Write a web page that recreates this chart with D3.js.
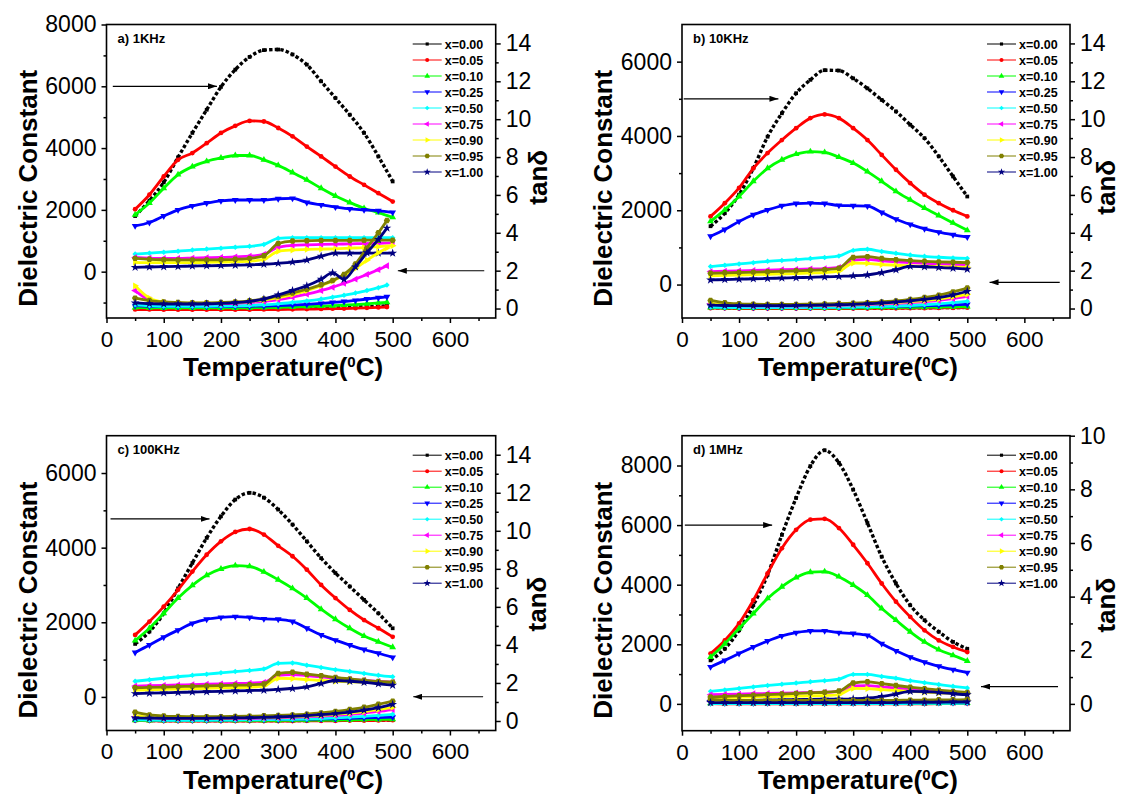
<!DOCTYPE html>
<html>
<head>
<meta charset="utf-8">
<script src="https://cdn.jsdelivr.net/npm/d3@7"></script>
<style>
  body { margin: 0; background: #fff; }
  svg text { font-family: "Liberation Sans", Arial, sans-serif; }
</style>
</head>
<body>
<svg id="chart" width="1121" height="795"></svg>
<script>
// temperatures (deg C) of the read-off points
const temps = [50,75,100,125,150,175,200,225,250,275,300,325,350,375,400,425,450,475,500];
const tempsTan1k = [50,75,100,125,150,175,200,225,250,275,300,325,350,375,395,415,435,455,475,490];
const compositions = ["x=0.00","x=0.05","x=0.10","x=0.25","x=0.50","x=0.75","x=0.90","x=0.95","x=1.00"];
const xTicks = [0,100,200,300,400,500,600];
const xMinor = [50,150,250,350,450,550,650];

// a) 1KHz
const eps1k = [
  [1800,2300,2890,3700,4490,5240,5980,6540,6950,7170,7190,7030,6700,6160,5620,5080,4490,3730,2920],
  [2020,2490,3080,3620,3840,4160,4490,4720,4880,4860,4650,4380,4050,3730,3400,3080,2810,2540,2270],
  [1840,2220,2700,3140,3400,3570,3680,3760,3760,3620,3440,3210,2970,2700,2450,2240,2050,1910,1760],
  [1480,1590,1800,2000,2130,2220,2290,2320,2320,2320,2360,2370,2240,2160,2090,2030,2000,1970,1920],
  [570,600,630,660,700,730,760,790,820,880,1080,1100,1100,1100,1100,1100,1100,1100,1100],
  [460,440,430,430,440,450,460,480,500,560,790,850,870,880,890,900,910,920,930],
  [300,290,290,290,295,300,310,320,340,400,660,700,720,730,740,760,780,810,840],
  [430,400,385,380,380,380,385,400,430,515,910,990,1000,1010,1010,1010,1020,1020,1020],
  [140,150,160,170,180,190,200,210,220,240,270,310,375,500,600,600,600,600,600]
];
const tan1k = [
  [0.05,0.03,0.02,0.02,0.02,0.02,0.02,0.02,0.02,0.02,0.03,0.03,0.04,0.05,0.06,0.07,0.08,0.1,0.12,0.15],
  [-0.05,-0.05,-0.06,-0.06,-0.06,-0.06,-0.06,-0.06,-0.06,-0.05,-0.05,-0.04,-0.03,-0.02,-0.01,0,0.02,0.04,0.06,0.08],
  [0.05,0.04,0.03,0.03,0.03,0.03,0.03,0.03,0.04,0.05,0.06,0.08,0.1,0.13,0.15,0.18,0.21,0.25,0.3,0.33],
  [0.15,0.12,0.1,0.1,0.1,0.1,0.1,0.11,0.12,0.13,0.15,0.18,0.22,0.27,0.32,0.37,0.43,0.5,0.57,0.62],
  [0.2,0.15,0.12,0.12,0.12,0.12,0.13,0.14,0.16,0.2,0.25,0.32,0.4,0.5,0.6,0.7,0.82,0.95,1.1,1.24],
  [0.95,0.45,0.3,0.26,0.25,0.25,0.26,0.28,0.32,0.38,0.47,0.6,0.76,0.95,1.12,1.33,1.55,1.8,2.05,2.26],
  [1.2,0.55,0.35,0.3,0.28,0.28,0.29,0.32,0.37,0.45,0.57,0.74,0.95,1.2,1.45,1.75,2.12,2.55,2.95,3.2],
  [0.55,0.42,0.35,0.32,0.3,0.3,0.32,0.35,0.41,0.5,0.65,0.82,1.02,1.25,1.48,1.8,2.35,3.2,4.0,4.65],
  [0.3,0.26,0.24,0.24,0.24,0.25,0.27,0.31,0.38,0.5,0.72,0.95,1.2,1.55,1.88,1.55,2.2,2.95,3.65,4.25]
];

// b) 10KHz
const eps10k = [
  [1570,1920,2420,3130,3980,4610,5150,5510,5770,5760,5550,5280,4970,4660,4300,3940,3450,2910,2370],
  [1835,2190,2600,3130,3540,3890,4210,4480,4580,4480,4210,3890,3490,3090,2730,2420,2190,2000,1835],
  [1700,2010,2370,2780,3130,3360,3510,3580,3560,3430,3270,3040,2780,2510,2280,2060,1860,1660,1460],
  [1300,1480,1700,1880,2010,2120,2180,2190,2180,2130,2120,2110,1940,1760,1620,1500,1410,1340,1280],
  [485,520,555,590,625,650,670,700,730,770,920,950,890,840,795,760,735,715,705],
  [350,360,370,380,390,400,410,420,430,460,660,680,640,610,590,570,555,540,530],
  [235,245,255,265,275,285,295,310,325,360,580,570,540,520,505,495,485,475,465],
  [305,315,325,335,345,355,370,385,400,440,730,750,700,670,645,625,610,600,592],
  [125,135,145,155,165,175,185,195,205,220,235,260,320,400,490,480,460,440,415]
];
const tan10k = [
  [0.05,0.03,0.02,0.02,0.02,0.02,0.02,0.02,0.02,0.02,0.02,0.03,0.03,0.03,0.04,0.04,0.05,0.05,0.06],
  [0.02,0.01,0,0,0,0,0,0,0,0,0,0,0.01,0.01,0.02,0.02,0.03,0.04,0.05],
  [0.05,0.04,0.03,0.03,0.03,0.03,0.03,0.03,0.03,0.03,0.04,0.04,0.05,0.05,0.06,0.07,0.08,0.09,0.1],
  [0.1,0.08,0.07,0.07,0.07,0.07,0.07,0.07,0.08,0.08,0.09,0.1,0.11,0.12,0.13,0.15,0.17,0.19,0.22],
  [0.08,0.06,0.05,0.05,0.05,0.05,0.05,0.06,0.06,0.07,0.08,0.09,0.11,0.13,0.16,0.2,0.25,0.31,0.38],
  [0.25,0.18,0.15,0.14,0.14,0.14,0.14,0.15,0.16,0.17,0.19,0.21,0.24,0.27,0.31,0.36,0.43,0.52,0.64],
  [0.3,0.2,0.17,0.16,0.16,0.16,0.16,0.17,0.18,0.19,0.21,0.24,0.27,0.31,0.36,0.42,0.5,0.62,0.75],
  [0.43,0.3,0.25,0.23,0.22,0.22,0.22,0.23,0.24,0.26,0.28,0.31,0.35,0.4,0.48,0.58,0.7,0.88,1.08],
  [0.18,0.16,0.15,0.15,0.15,0.15,0.16,0.17,0.18,0.2,0.22,0.25,0.29,0.34,0.4,0.48,0.58,0.72,0.9]
];

// c) 100KHz
const eps100k = [
  [1420,1750,2240,2910,3590,4260,4840,5290,5470,5340,5020,4620,4170,3720,3320,2960,2600,2240,1840],
  [1660,2020,2420,2870,3360,3810,4170,4420,4500,4350,4050,3770,3410,3000,2650,2330,2060,1840,1610],
  [1510,1840,2240,2650,2990,3260,3430,3520,3500,3350,3140,2910,2650,2350,2080,1840,1630,1480,1330],
  [1190,1390,1600,1790,1970,2080,2130,2150,2130,2090,2080,2020,1840,1660,1520,1390,1270,1170,1060],
  [420,460,500,540,580,610,645,680,710,750,900,910,850,790,730,680,630,580,540],
  [290,300,310,320,330,340,350,360,370,390,580,600,570,540,500,470,440,415,395],
  [180,190,200,210,220,230,240,250,260,290,500,490,465,440,420,405,395,385,375],
  [245,255,265,275,285,295,305,315,325,345,630,660,610,570,520,480,445,415,395],
  [90,100,110,120,130,140,150,160,170,180,200,225,270,360,440,420,390,350,315]
];
const tan100k = [
  [0.04,0.03,0.02,0.02,0.02,0.02,0.02,0.02,0.02,0.02,0.02,0.02,0.03,0.03,0.03,0.04,0.04,0.05,0.05],
  [0.02,0.01,0,0,0,0,0,0,0,0,0,0,0.01,0.01,0.01,0.02,0.02,0.03,0.04],
  [0.04,0.03,0.03,0.03,0.03,0.03,0.03,0.03,0.03,0.03,0.03,0.04,0.04,0.05,0.05,0.06,0.07,0.08,0.09],
  [0.08,0.07,0.06,0.06,0.06,0.06,0.06,0.07,0.07,0.08,0.08,0.09,0.1,0.11,0.12,0.14,0.16,0.18,0.2],
  [0.06,0.05,0.04,0.04,0.04,0.04,0.05,0.05,0.06,0.07,0.08,0.09,0.11,0.13,0.16,0.2,0.24,0.29,0.35],
  [0.22,0.16,0.13,0.12,0.12,0.12,0.12,0.13,0.14,0.15,0.17,0.19,0.22,0.26,0.3,0.35,0.42,0.5,0.6],
  [0.28,0.19,0.16,0.15,0.15,0.15,0.15,0.16,0.17,0.18,0.2,0.23,0.26,0.3,0.35,0.41,0.49,0.6,0.72],
  [0.46,0.32,0.26,0.24,0.23,0.23,0.23,0.24,0.25,0.27,0.29,0.32,0.36,0.42,0.5,0.6,0.72,0.88,1.04],
  [0.16,0.15,0.14,0.14,0.14,0.14,0.15,0.16,0.17,0.19,0.21,0.24,0.28,0.33,0.39,0.47,0.57,0.7,0.87]
];

// d) 1MHz
const eps1M = [
  [1460,1850,2470,3310,4330,5670,6910,7980,8510,8090,7190,6070,4940,4040,3310,2810,2420,2080,1850],
  [1690,2130,2700,3480,4380,5220,5840,6180,6210,5900,5340,4720,4040,3430,2920,2470,2130,1910,1740],
  [1570,2020,2530,3030,3540,3930,4240,4420,4440,4270,3990,3650,3200,2810,2420,2080,1820,1630,1440],
  [1240,1460,1690,1910,2110,2280,2390,2450,2450,2390,2360,2300,2020,1780,1570,1400,1260,1150,1050],
  [420,470,520,570,620,660,700,740,780,830,990,990,920,860,780,710,650,590,535],
  [310,320,330,340,350,360,370,380,390,420,600,610,570,530,490,460,420,390,365],
  [200,210,220,230,240,250,260,270,280,310,520,510,480,450,420,395,370,355,340],
  [230,250,270,290,310,330,350,370,390,430,700,740,680,620,560,510,460,420,385],
  [85,95,105,115,125,135,145,150,155,160,170,190,250,330,420,410,380,340,310]
];
const tan1M = [
  [0.03,0.02,0.02,0.02,0.02,0.02,0.02,0.02,0.02,0.02,0.02,0.02,0.02,0.02,0.02,0.02,0.03,0.03,0.03],
  [0.01,0,0,0,0,0,0,0,0,0,0,0,0,0,0,0,0.01,0.01,0.01],
  [0.02,0.02,0.02,0.02,0.02,0.02,0.02,0.02,0.02,0.02,0.02,0.02,0.02,0.02,0.02,0.02,0.02,0.03,0.03],
  [0.04,0.04,0.04,0.04,0.04,0.04,0.04,0.04,0.04,0.04,0.04,0.04,0.04,0.04,0.04,0.04,0.05,0.05,0.05],
  [0.01,0.01,0.01,0.01,0.01,0.01,0.01,0.01,0.01,0.01,0.01,0.01,0.01,0.01,0.02,0.02,0.02,0.02,0.03],
  [0.09,0.08,0.08,0.08,0.08,0.08,0.08,0.08,0.08,0.08,0.08,0.08,0.08,0.08,0.09,0.09,0.09,0.1,0.1],
  [0.11,0.1,0.1,0.1,0.1,0.1,0.1,0.1,0.1,0.1,0.1,0.1,0.1,0.1,0.11,0.11,0.11,0.12,0.12],
  [0.17,0.14,0.13,0.13,0.13,0.13,0.13,0.13,0.13,0.13,0.13,0.13,0.13,0.13,0.14,0.14,0.15,0.15,0.16],
  [0.05,0.05,0.05,0.05,0.05,0.05,0.05,0.05,0.05,0.05,0.05,0.05,0.05,0.05,0.06,0.06,0.06,0.07,0.07]
];

// arrows: [fromT, fromEps, toT, toEps]
const arrows1k = [[11,6000,193,6000],[660,30,509,30]];
const arrows10k = [[3,5000,169,5000],[662,60,539,60]];
const arrows100k = [[7,4770,180,4770],[658,5,536,5]];
const arrows1M = [[5,6000,158,6000],[659,580,524,580]];

const colors = ["#000000","#ff0000","#00ff00","#0000ff","#00ffff","#ff00ff","#ffff00","#808000","#000080"];

const hexagon = {
  draw(ctx, size) {
    const r = Math.sqrt(size / (1.5 * Math.sqrt(3)));
    for (let i = 0; i < 6; i++) {
      const a = Math.PI / 3 * i;
      if (i) ctx.lineTo(r * Math.cos(a), r * Math.sin(a));
      else ctx.moveTo(r * Math.cos(a), r * Math.sin(a));
    }
    ctx.closePath();
  }
};
const shapes = [
  {type: d3.symbolSquare, rot: 0, size: 14},
  {type: d3.symbolCircle, rot: 0, size: 18},
  {type: d3.symbolTriangle, rot: 0, size: 20},
  {type: d3.symbolTriangle, rot: 180, size: 20},
  {type: d3.symbolSquare, rot: 45, size: 15},
  {type: d3.symbolTriangle, rot: -90, size: 20},
  {type: d3.symbolTriangle, rot: 90, size: 20},
  {type: hexagon, rot: 0, size: 26},
  {type: d3.symbolStar, rot: 0, size: 24}
];

const panels = [
  {label: "a) 1KHz", eps: eps1k, tan: tan1k, tanT: tempsTan1k, arrows: arrows1k,
   left: 106.5, top: 24.5, width: 389.2, height: 293.5,
   epsDomain: [-1500, 8000], epsTicks: [0,2000,4000,6000,8000], epsMinor: [-1000,1000,3000,5000,7000],
   tanDomain: [-0.5, 15], tanTicks: [0,2,4,6,8,10,12,14], tanMinor: [1,3,5,7,9,11,13], tanX: 42, tanShift: 6},
  {label: "b) 10KHz", eps: eps10k, tan: tan10k, tanT: temps, arrows: arrows10k,
   left: 682, top: 24.5, width: 388, height: 293.5,
   epsDomain: [-900, 7000], epsTicks: [0,2000,4000,6000], epsMinor: [1000,3000,5000],
   tanDomain: [-0.5, 15], tanTicks: [0,2,4,6,8,10,12,14], tanMinor: [1,3,5,7,9,11,13], tanX: 36, tanShift: 16},
  {label: "c) 100KHz", eps: eps100k, tan: tan100k, tanT: temps, arrows: arrows100k,
   left: 106.5, top: 435.7, width: 389.2, height: 294.8,
   epsDomain: [-900, 7000], epsTicks: [0,2000,4000,6000], epsMinor: [1000,3000,5000],
   tanDomain: [-0.5, 15], tanTicks: [0,2,4,6,8,10,12,14], tanMinor: [1,3,5,7,9,11,13], tanX: 41, tanShift: 21},
  {label: "d) 1MHz", eps: eps1M, tan: tan1M, tanT: temps, arrows: arrows1M,
   left: 682, top: 435.7, width: 388, height: 295,
   epsDomain: [-900, 9000], epsTicks: [0,2000,4000,6000,8000], epsMinor: [1000,3000,5000,7000],
   tanDomain: [-1, 10], tanTicks: [0,2,4,6,8,10], tanMinor: [1,3,5,7,9], tanX: 36, tanShift: 22}
];

const svg = d3.select("#chart");

svg.append("defs").append("marker")
  .attr("id", "arrowhead")
  .attr("markerUnits", "userSpaceOnUse")
  .attr("markerWidth", 9).attr("markerHeight", 6)
  .attr("refX", 9).attr("refY", 3)
  .attr("orient", "auto")
  .append("path").attr("d", "M0,0 L9,3 L0,6 Z").attr("fill", "#000");

function styleAxis(g, fontSize) {
  g.select(".domain").remove();
  g.selectAll("line").attr("stroke", "#000").attr("stroke-width", 1.5);
  g.selectAll("text").attr("fill", "#000")
    .style("font-family", '"Liberation Sans", Arial, sans-serif')
    .style("font-size", fontSize + "px");
}

function drawPanel(p) {
  const g = svg.append("g");
  const right = p.left + p.width, bottom = p.top + p.height;

  const x = d3.scaleLinear().domain([0, 680]).range([p.left, right]);
  const yE = d3.scaleLinear().domain(p.epsDomain).range([bottom, p.top]);
  const yT = d3.scaleLinear().domain(p.tanDomain).range([bottom, p.top]);

  // axes
  g.append("g").attr("transform", `translate(0,${bottom})`)
    .call(d3.axisBottom(x).tickValues(xTicks).tickSize(5).tickPadding(8).tickFormat(d3.format("d")))
    .call(a => styleAxis(a, 22.5));
  g.append("g").attr("transform", `translate(0,${bottom})`)
    .call(d3.axisBottom(x).tickValues(xMinor).tickSize(3).tickFormat(""))
    .call(a => styleAxis(a, 22.5));
  g.append("g").attr("transform", `translate(${p.left},0)`)
    .call(d3.axisLeft(yE).tickValues(p.epsTicks).tickSize(5).tickPadding(5).tickFormat(d3.format("d")))
    .call(a => styleAxis(a, 23));
  g.append("g").attr("transform", `translate(${p.left},0)`)
    .call(d3.axisLeft(yE).tickValues(p.epsMinor).tickSize(3).tickFormat(""))
    .call(a => styleAxis(a, 23));
  g.append("g").attr("transform", `translate(${right},0)`)
    .call(d3.axisRight(yT).tickValues(p.tanTicks).tickSize(5).tickPadding(5).tickFormat(d3.format("d")))
    .call(a => styleAxis(a, 23));
  g.append("g").attr("transform", `translate(${right},0)`)
    .call(d3.axisRight(yT).tickValues(p.tanMinor).tickSize(3).tickFormat(""))
    .call(a => styleAxis(a, 23));

  // axis titles
  g.append("text")
    .attr("transform", `translate(${p.left - 79},${p.top + p.height / 2 + 17}) rotate(-90)`)
    .attr("text-anchor", "middle").attr("dy", "0.36em")
    .style("font-size", "26px").style("font-weight", "bold")
    .text("Dielectric Constant");
  g.append("text")
    .attr("transform", `translate(${right + p.tanX},${p.top + p.height / 2 + p.tanShift}) rotate(-90)`)
    .attr("text-anchor", "middle").attr("dy", "0.36em")
    .style("font-size", "26px").style("font-weight", "bold")
    .text("tanδ");
  const xt = g.append("text")
    .attr("x", p.left + p.width / 2 - 18).attr("y", bottom + 58)
    .attr("text-anchor", "middle")
    .style("font-size", "26px").style("font-weight", "bold");
  xt.append("tspan").text("Temperature(");
  xt.append("tspan").attr("dy", -9).style("font-size", "15px").text("0");
  xt.append("tspan").attr("dy", 9).text("C)");

  const line = d3.line().curve(d3.curveMonotoneX);

  function drawSeries(vals, ts, yScale, i) {
    const pts = ts.map((t, k) => [x(t), yScale(vals[k])]);
    const path = g.append("path")
      .attr("d", line(pts))
      .attr("fill", "none")
      .attr("stroke", colors[i])
      .attr("stroke-width", i === 0 ? 3.4 : 2.8);
    if (i === 0) path.attr("stroke-dasharray", "3.4,2.2");
    g.append("g").selectAll("path")
      .data(pts)
      .enter()
      .append("path")
      .attr("transform", d => `translate(${d[0]},${d[1]}) rotate(${shapes[i].rot})`)
      .attr("d", d3.symbol().type(shapes[i].type).size(shapes[i].size))
      .attr("fill", colors[i]);
  }

  p.eps.forEach((vals, i) => drawSeries(vals, temps, yE, i));
  p.tan.forEach((vals, i) => drawSeries(vals, p.tanT, yT, i));

  // legend
  compositions.forEach((c, i) => {
    const ly = p.top + 19.5 + i * 16;
    g.append("line")
      .attr("x1", right - 83).attr("x2", right - 54)
      .attr("y1", ly).attr("y2", ly)
      .attr("stroke", colors[i]).attr("stroke-width", 1);
    g.append("path")
      .attr("transform", `translate(${right - 68.5},${ly}) rotate(${shapes[i].rot})`)
      .attr("d", d3.symbol().type(shapes[i].type).size(shapes[i].size * 0.7))
      .attr("fill", colors[i]);
    g.append("text")
      .attr("x", right - 51).attr("y", ly).attr("dy", "0.36em")
      .style("font-size", "12.5px").style("font-weight", "bold")
      .text(c);
  });

  // panel label
  g.append("text")
    .attr("x", p.left + 11).attr("y", p.top + 18)
    .style("font-size", "13px").style("font-weight", "bold")
    .text(p.label);

  // arrows
  p.arrows.forEach(a => {
    g.append("line")
      .attr("x1", x(a[0])).attr("y1", yE(a[1]))
      .attr("x2", x(a[2])).attr("y2", yE(a[3]))
      .attr("stroke", "#000").attr("stroke-width", 1.2)
      .attr("marker-end", "url(#arrowhead)");
  });

  // frame
  g.append("rect")
    .attr("x", p.left).attr("y", p.top)
    .attr("width", p.width).attr("height", p.height)
    .attr("fill", "none").attr("stroke", "#000").attr("stroke-width", 1.6);
}

panels.forEach(drawPanel);
</script>
</body>
</html>
